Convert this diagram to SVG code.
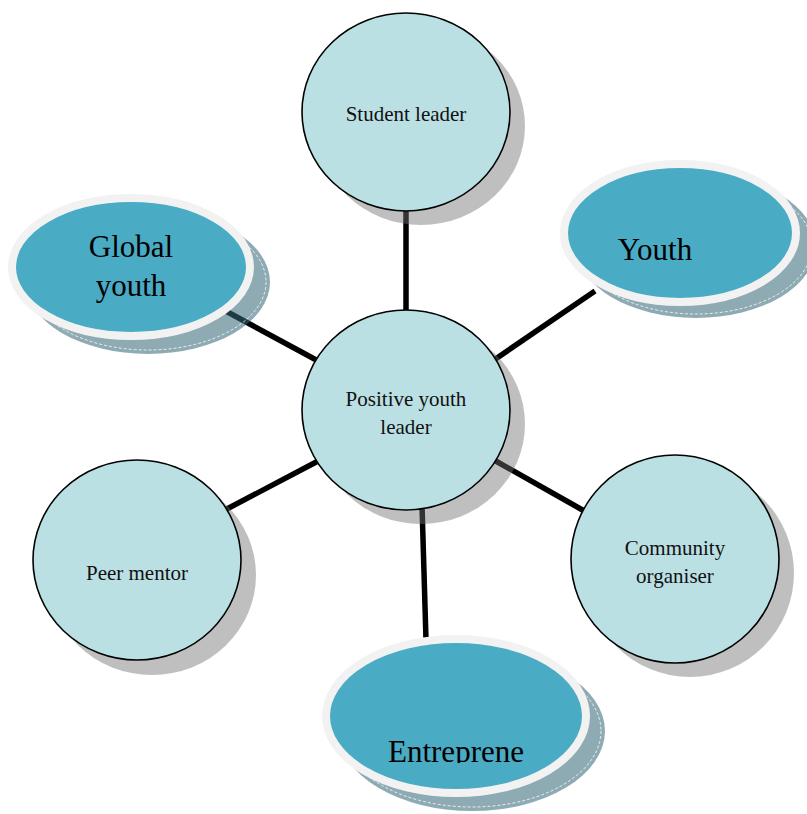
<svg xmlns="http://www.w3.org/2000/svg" width="807" height="814" viewBox="0 0 807 814">
<defs>
<style>
.conn{stroke:#000;stroke-width:5.5;fill:none;stroke-linecap:butt}
.csh{fill:#727272;fill-opacity:0.45}
.circ{fill:#bae0e4;stroke:#000;stroke-width:1.6}
.esh{fill:rgb(54,105,120);fill-opacity:0.56}
.eshline{fill:none;stroke:#fff;stroke-width:0.8;stroke-dasharray:3 2}
.ell{fill:#4aabc5;stroke:#f2f2f2;stroke-width:8}
.sm{font-family:"Liberation Serif","Times New Roman",serif;font-size:21px;fill:#111;text-anchor:middle}
.lg{font-family:"Liberation Serif","Times New Roman",serif;font-size:31px;fill:#000;text-anchor:middle}
</style>
<clipPath id="clipEnt"><rect x="300" y="600" width="320" height="163"/></clipPath>
</defs>
<rect width="807" height="814" fill="#fff"/>
<g id="connectors">
<line class="conn" x1="406" y1="205" x2="406" y2="315"/>
<line class="conn" x1="222" y1="309" x2="320" y2="362"/>
<line class="conn" x1="494" y1="360" x2="595" y2="291"/>
<line class="conn" x1="225" y1="510" x2="320" y2="460"/>
<line class="conn" x1="494" y1="460" x2="586" y2="512"/>
<line class="conn" x1="422" y1="505" x2="426" y2="640"/>
</g>
<g id="node-student-leader">
<ellipse class="csh" cx="421" cy="126" rx="104" ry="99"/>
<ellipse class="circ" cx="406" cy="112" rx="104" ry="99"/>
<text class="sm" x="406" y="121">Student leader</text>
</g>
<g id="node-positive-youth-leader">
<ellipse class="csh" cx="421" cy="424" rx="104" ry="100"/>
<ellipse class="circ" cx="406" cy="410" rx="104" ry="100"/>
<text class="sm" x="406" y="406">Positive youth</text>
<text class="sm" x="406" y="434">leader</text>
</g>
<g id="node-peer-mentor">
<ellipse class="csh" cx="152" cy="575" rx="104" ry="100"/>
<ellipse class="circ" cx="137" cy="560" rx="104" ry="100"/>
<text class="sm" x="137" y="580">Peer mentor</text>
</g>
<g id="node-community-organiser">
<ellipse class="csh" cx="690" cy="573" rx="104" ry="104"/>
<ellipse class="circ" cx="675" cy="559" rx="104" ry="104"/>
<text class="sm" x="675" y="555">Community</text>
<text class="sm" x="675" y="583">organiser</text>
</g>
<g id="node-global-youth">
<ellipse class="esh" cx="148" cy="282" rx="122" ry="72"/>
<ellipse class="eshline" cx="148" cy="282" rx="118" ry="68"/>
<ellipse class="ell" cx="131" cy="267" rx="119" ry="69"/>
<text class="lg" x="131" y="257">Global</text>
<text class="lg" x="131" y="296">youth</text>
</g>
<g id="node-youth">
<ellipse class="esh" cx="696" cy="246" rx="120" ry="72"/>
<ellipse class="eshline" cx="696" cy="246" rx="116" ry="68"/>
<ellipse class="ell" cx="680" cy="233" rx="116" ry="69"/>
<text class="lg" x="655" y="260">Youth</text>
</g>
<g id="node-entreprene">
<ellipse class="esh" cx="472" cy="731" rx="133" ry="80"/>
<ellipse class="eshline" cx="472" cy="731" rx="129" ry="76"/>
<ellipse class="ell" cx="456" cy="716" rx="130" ry="77"/>
<text class="lg" x="456" y="762" clip-path="url(#clipEnt)">Entreprene</text>
</g>
</svg>
